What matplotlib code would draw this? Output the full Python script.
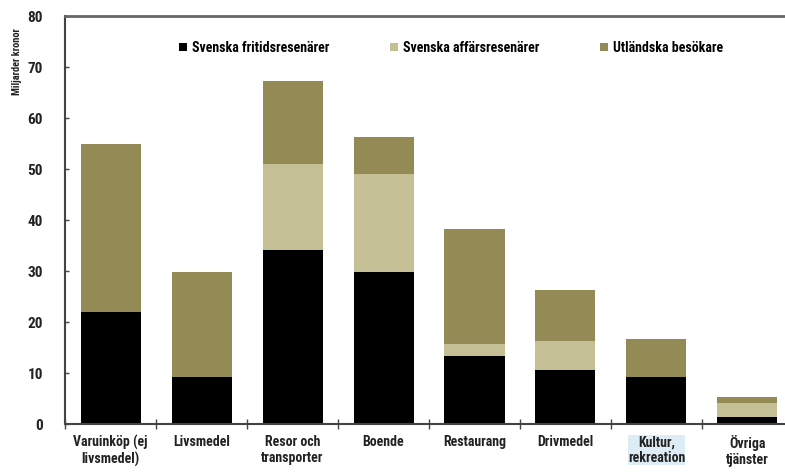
import numpy as np
import matplotlib.pyplot as plt

## Turismkonsumtion per produkt och besökarkategori (miljarder kronor)
categories = ["Varuinköp (ej\nlivsmedel)", "Livsmedel", "Resor och\ntransporter", "Boende",
              "Restaurang", "Drivmedel", "Kultur,\nrekreation", "Övriga\ntjänster"]
series_names = ["Svenska fritidsresenärer", "Svenska affärsresenärer", "Utländska besökare"]

fritid = [22.0, 9.2, 34.1, 29.8, 13.3, 10.6, 9.2, 1.4]
affars = [0.0, 0.0, 16.9, 19.2, 2.4, 5.7, 0.0, 2.7]
utland = [33.0, 20.6, 16.3, 7.3, 22.5, 10.0, 7.5, 1.2]

yticks = [0, 10, 20, 30, 40, 50, 60, 70, 80]

colors = ["#000000", "#c5bf96", "#948a55"]
font = ["Roboto Condensed", "DejaVu Sans"]

fig = plt.figure(figsize=(7.85, 4.76), dpi=100)
ax = fig.add_axes([0.083, 0.109, 0.927, 0.857])

x = np.arange(len(categories))
bottom = np.zeros(len(categories))
for name, vals, c in zip(series_names, [fritid, affars, utland], colors):
    ax.bar(x, vals, width=0.66, bottom=bottom, color=c, label=name, zorder=2)
    bottom += np.array(vals)

ax.set_xlim(-0.5, len(categories) - 0.5)
ax.set_ylim(0, 80)
ax.set_yticks(yticks)
ax.set_yticklabels([str(t) for t in yticks], family=font, fontweight="bold", fontsize=11, color="#222222")
ax.tick_params(axis="y", direction="in", length=3, width=1, color="#444444", pad=16)

ax.set_xticks(x)
ax.set_xticklabels(categories, family=font, fontweight="bold", fontsize=10, color="#222222",
                   linespacing=1.15)
ax.set_xticks(np.arange(-0.5, len(categories), 1.0), minor=True)
ax.tick_params(axis="x", which="major", length=0, pad=8)
ax.tick_params(axis="x", which="minor", direction="inout", length=7, width=1, color="#444444")

for lbl in ax.get_xticklabels():
    if lbl.get_text().startswith("Kultur"):
        lbl.set_bbox(dict(facecolor="#d6e8f3", edgecolor="none", pad=0.2, alpha=0.8))

for s in ["left", "bottom"]:
    ax.spines[s].set_color("#444444")
    ax.spines[s].set_linewidth(1.5)
ax.spines["top"].set_color("#666666")
ax.spines["top"].set_linewidth(2)
ax.spines["right"].set_visible(False)

leg = ax.legend(loc="upper center", bbox_to_anchor=(0.53, 0.97), ncol=3, frameon=False,
                handlelength=0.6, handleheight=0.6, handletextpad=0.3, columnspacing=4.4,
                prop={"family": font, "weight": "bold", "size": 10})

fig.text(0.022, 0.87, "Miljarder kronor", rotation=90, ha="center", va="center",
         family=font, fontweight="bold", fontsize=7.5, color="#222222")

fig.savefig("out.png", dpi=100)
